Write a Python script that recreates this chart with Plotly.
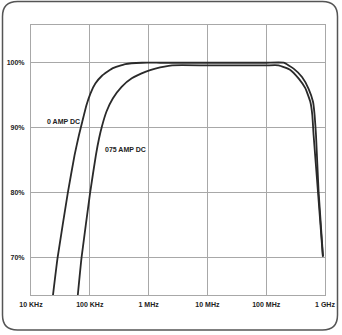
import plotly.graph_objects as go

# ---- data ----
tick_freqs = [1e4, 1e5, 1e6, 1e7, 1e8, 1e9]
tick_labels = ["10 KHz", "100 KHz", "1 MHz", "10 MHz", "100 MHz", "1 GHz"]
y_ticks = [70, 80, 90, 100]
y_labels = ["70%", "80%", "90%", "100%"]

freq_0amp = [23660, 28310, 42270, 55080, 65460, 74300, 87900, 102800, 124200,
             161100, 238800, 401800, 772700, 1585000, 10000000, 100000000,
             197700000, 292400000, 406400000, 526000000, 625200000, 665300000,
             703100000, 778000000, 924700000]
pct_0amp = [64.3, 70, 80, 85.8, 88.9, 90.9, 93.5, 95.3, 96.8,
            98.0, 99.1, 99.8, 100, 100, 100, 100,
            100, 99.1, 97.8, 96.0, 94.0, 92.0,
            88.9, 80.2, 70.2]

freq_075amp = [62520, 72280, 101200, 127000, 143900, 160700, 192300, 246000,
               347500, 517600, 879000, 1300000, 2512000, 10000000, 100000000,
               162200000, 257000000, 354800000, 462400000, 562300000, 608100000,
               639700000, 758600000, 920400000]
pct_075amp = [64.3, 70, 80, 85.8, 88.4, 90.2, 92.5, 94.5,
              96.3, 97.6, 98.6, 99.1, 99.6, 99.6, 99.6,
              99.6, 98.9, 97.6, 96.1, 94.0, 92.0,
              88.9, 80.2, 70.2]

labels = ["0 AMP DC", "075 AMP DC"]

# ---- figure ----
W, H = 342, 335
ML, MR, MT, MB = 31, 17, 25, 40
line_col = "#2a2a2a"
grid_col = "#a8a8a8"
font = dict(family="Liberation Sans, Arial, sans-serif", size=7, color="#222", weight="bold")

fig = go.Figure()
for f, p in [(freq_0amp, pct_0amp), (freq_075amp, pct_075amp)]:
    fig.add_trace(go.Scatter(x=f, y=p, mode="lines",
                             line=dict(color=line_col, width=1.8, shape="spline", smoothing=0.4),
                             hoverinfo="skip", showlegend=False))

fig.add_annotation(x=4.872, y=91.0, text=labels[0], showarrow=False,
                   xanchor="right", yanchor="middle", font=font)
fig.add_annotation(x=5.23, y=86.7, text=labels[1], showarrow=False,
                   xanchor="left", yanchor="middle", font=font)

# rounded outer frame in paper coords
pw, ph = W - ML - MR, H - MT - MB
def px(x):
    return (x - ML) / pw
def py(y):
    return (H - MB - y) / ph
x0, x1, y0, y1, r = 2.5, 337.5, 1.5, 330, 15
path = (f"M {px(x0 + r)},{py(y0)} L {px(x1 - r)},{py(y0)} "
        f"Q {px(x1)},{py(y0)} {px(x1)},{py(y0 + r)} "
        f"L {px(x1)},{py(y1 - r)} Q {px(x1)},{py(y1)} {px(x1 - r)},{py(y1)} "
        f"L {px(x0 + r)},{py(y1)} Q {px(x0)},{py(y1)} {px(x0)},{py(y1 - r)} "
        f"L {px(x0)},{py(y0 + r)} Q {px(x0)},{py(y0)} {px(x0 + r)},{py(y0)} Z")
fig.add_shape(type="path", path=path, xref="paper", yref="paper",
              line=dict(color="#555", width=1.5), layer="above")

fig.update_xaxes(type="log", range=[4, 9], tickvals=tick_freqs, ticktext=tick_labels,
                 showgrid=True, gridcolor=grid_col, gridwidth=1,
                 showline=True, linecolor=grid_col, linewidth=1, mirror=True,
                 ticks="", tickfont=font, zeroline=False, ticklabelstandoff=3,
                 automargin=False)
fig.update_yaxes(range=[64.3, 105.8], tickvals=y_ticks, ticktext=y_labels,
                 showgrid=True, gridcolor=grid_col, gridwidth=1,
                 showline=True, linecolor=grid_col, linewidth=1, mirror=True,
                 ticks="", tickfont=font, zeroline=False, ticklabelstandoff=4,
                 automargin=False)
fig.update_layout(width=W, height=H, margin=dict(l=ML, r=MR, t=MT, b=MB),
                  paper_bgcolor="white", plot_bgcolor="white")

fig.write_html("out.html")
